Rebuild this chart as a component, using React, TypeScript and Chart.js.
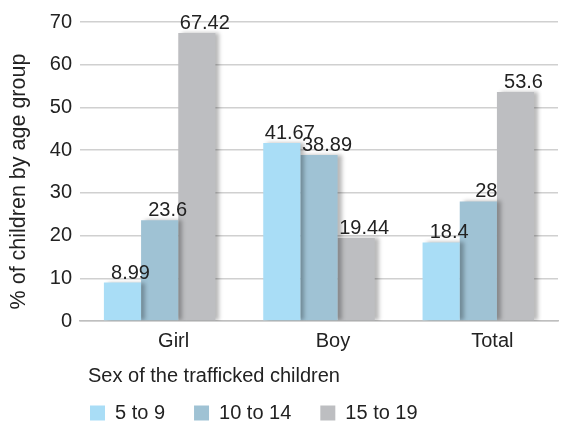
import React, { useEffect, useRef } from "react";
import { Chart, registerables } from "chart.js";

Chart.register(...registerables);

const categories = ["Girl", "Boy", "Total"];
const seriesNames = ["5 to 9", "10 to 14", "15 to 19"];
const age5to9 = [8.99, 41.67, 18.4];
const age10to14 = [23.6, 38.89, 28];
const age15to19 = [67.42, 19.44, 53.6];
const yTicks = [0, 10, 20, 30, 40, 50, 60, 70];
const yTitle = "% of children by age group";
const xTitle = "Sex of the trafficked children";
const colors = ["#A9DDF6", "#9FC2D4", "#BDBEC1"];

const FONT = "'Liberation Sans', Arial, Helvetica, sans-serif";
const FS = 20;

const shadowPlugin = {
  id: "barShadow",
  beforeDatasetDraw(chart: any) {
    const ctx = chart.ctx;
    ctx.save();
    ctx.shadowColor = "rgba(0,0,0,0.28)";
    ctx.shadowOffsetX = 4;
    ctx.shadowOffsetY = 0;
    ctx.shadowBlur = 4;
  },
  afterDatasetDraw(chart: any) {
    chart.ctx.restore();
  },
};

const labelPlugin = {
  id: "valueLabels",
  afterDatasetsDraw(chart: any) {
    const ctx = chart.ctx;
    const area = chart.chartArea;
    ctx.save();
    ctx.font = `${FS}px ${FONT}`;
    ctx.fillStyle = "#222222";
    ctx.textAlign = "center";
    ctx.textBaseline = "alphabetic";
    chart.data.datasets.forEach((ds: any, i: number) => {
      const meta = chart.getDatasetMeta(i);
      meta.data.forEach((bar: any, j: number) => {
        ctx.fillText(String(ds.data[j]), bar.x + 8, bar.y - 4);
      });
    });
    // x-axis title
    ctx.textAlign = "left";
    ctx.textBaseline = "middle";
    ctx.fillText(xTitle, area.left + 8, area.bottom + 55);
    // y-axis title
    ctx.translate(19, (area.top + area.bottom) / 2 + 10);
    ctx.rotate(-Math.PI / 2);
    ctx.textAlign = "center";
    ctx.font = `21.5px ${FONT}`;
    ctx.fillText(yTitle, 0, 0);
    ctx.restore();
  },
};

const LEGEND_PAD = 29;

const legendShift = {
  id: "legendShift",
  afterLayout(chart: any) {
    const lg = chart.legend;
    if (lg) {
      const w = lg.right - lg.left;
      lg.left = 61;
      lg.right = 61 + w;
      lg.top = 413 - LEGEND_PAD - FS / 2;
      lg.bottom = chart.height;
    }
  },
};

export default function App() {
  const ref = useRef<HTMLCanvasElement>(null);
  useEffect(() => {
    if (!ref.current) return;
    const chart = new Chart(ref.current, {
      type: "bar",
      data: {
        labels: categories,
        datasets: [age5to9, age10to14, age15to19].map((d, i) => ({
          label: seriesNames[i],
          data: d,
          backgroundColor: colors[i],
          borderWidth: 0,
          barPercentage: 1,
          categoryPercentage: 0.7,
        })),
      },
      options: {
        animation: false,
        responsive: false,
        maintainAspectRatio: false,
        layout: { padding: { top: 22, right: 3, left: 0, bottom: 0 } },
        plugins: {
          tooltip: { enabled: false },
          legend: {
            position: "bottom",
            align: "start",
            maxHeight: 33,
            labels: {
              boxWidth: 15,
              boxHeight: 15,
              padding: LEGEND_PAD,
              color: "#222222",
              font: { family: FONT, size: FS },
            },
          },
        },
        scales: {
          x: {
            grid: { display: false, drawTicks: false },
            border: { display: true, color: "#BFBFBF", width: 1.5 },
            afterFit: (scale: any) => {
              scale.height = 67;
            },
            ticks: {
              color: "#222222",
              font: { family: FONT, size: FS },
              labelOffset: 14,
              padding: 8,
            },
          },
          y: {
            min: 0,
            max: 70,
            afterBuildTicks: (scale: any) => {
              scale.ticks = yTicks.map((v) => ({ value: v }));
            },
            afterFit: (scale: any) => {
              scale.width = 80;
            },
            grid: { color: "#D0D0D0", lineWidth: 1.5, drawTicks: false },
            border: { display: false },
            ticks: {
              color: "#222222",
              font: { family: FONT, size: FS },
              padding: 8,
            },
          },
        },
      },
      plugins: [shadowPlugin, labelPlugin, legendShift],
    });
    return () => chart.destroy();
  }, []);
  return (
    <div style={{ position: "absolute", left: 0, top: 0, width: 561, height: 421, background: "#fff" }}>
      <canvas ref={ref} width={561} height={421} style={{ width: 561, height: 421 }} />
    </div>
  );
}
